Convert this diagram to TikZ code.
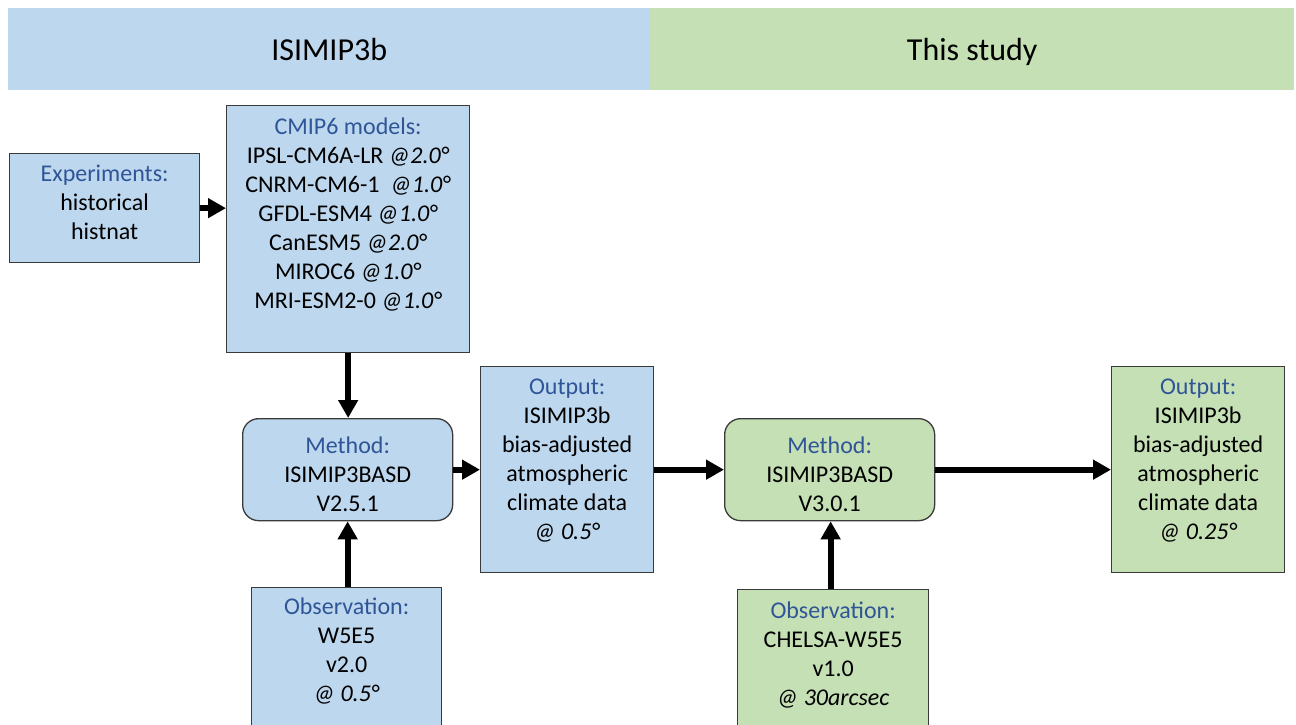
\documentclass[tikz,border=0pt]{standalone}
\usepackage{fontspec}
\setmainfont{Carlito}
\usetikzlibrary{arrows.meta,calc}
\definecolor{bfill}{HTML}{BDD7EE}
\definecolor{gfill}{HTML}{C5E0B4}
\definecolor{ttl}{HTML}{2F5597}
\definecolor{edge}{HTML}{3A3A3A}
\tikzset{
  box/.style={draw=edge, line width=1.3pt, inner sep=0pt, anchor=north west},
  bluebox/.style={box, fill=bfill},
  greenbox/.style={box, fill=gfill},
  rbox/.style={rounded corners=16pt},
  txt/.style={align=center, inner sep=0pt, anchor=north, font=\fontsize{24}{29}\selectfont},
  hdr/.style={inner sep=0pt, anchor=north west, font=\fontsize{32}{38}\selectfont},
  arr/.style={line width=6pt, -{Triangle[length=18pt,width=19pt]}},
}
\newcommand{\ttlc}[1]{\textcolor{ttl}{#1}}
\begin{document}
\begin{tikzpicture}[x=1pt,y=-1pt]
\useasboundingbox (0,0) rectangle (1296,724);
\clip (0,0) rectangle (1296,724);
\fill[white] (0,0) rectangle (1296,724);
% header
\node[hdr, fill=bfill, minimum width=642pt, minimum height=82pt, text depth=-4pt] (hl) at (8,8) {ISIMIP3b};
\node[hdr, fill=gfill, minimum width=644pt, minimum height=82pt, text depth=-4pt] (hr) at (650,8) {This study};
% boxes
\node[bluebox, minimum width=190pt, minimum height=109pt] (exp) at (9,153) {};
\node[txt] (expT) at ($(exp.north)+(0,12)$) {\ttlc{Experiments:}\\historical\\histnat};
\node[bluebox, minimum width=243pt, minimum height=247pt] (cmip) at (226,105) {};
\node[txt] (cmipT) at ($(cmip.north)+(0,13)$) {\ttlc{CMIP6 models:}\\IPSL-CM6A-LR \textit{@2.0°}\\CNRM-CM6-1 \ \textit{@1.0°}\\GFDL-ESM4 \textit{@1.0°}\\CanESM5 \textit{@2.0°}\\MIROC6 \textit{@1.0°}\\MRI-ESM2-0 \textit{@1.0°}};
\node[bluebox, rbox, minimum width=210pt, minimum height=102pt] (m1) at (242,418) {};
\node[txt] (m1T) at ($(m1.north)+(0,19)$) {\ttlc{Method:}\\ISIMIP3BASD\\V2.5.1};
\node[bluebox, minimum width=173pt, minimum height=206pt] (o1) at (480,366) {};
\node[txt] (o1T) at ($(o1.north)+(0,13)$) {\ttlc{Output:}\\ISIMIP3b\\bias-adjusted\\atmospheric\\climate data\\\textit{@ 0.5°}};
\node[bluebox, minimum width=190pt, minimum height=160pt] (ob1) at (251,587) {};
\node[txt] (ob1T) at ($(ob1.north)+(0,11)$) {\ttlc{Observation:}\\W5E5\\v2.0\\\textit{@ 0.5°}};
\node[greenbox, rbox, minimum width=210pt, minimum height=102pt] (m2) at (724,418) {};
\node[txt] (m2T) at ($(m2.north)+(0,19)$) {\ttlc{Method:}\\ISIMIP3BASD\\V3.0.1};
\node[greenbox, minimum width=173pt, minimum height=206pt] (o2) at (1111,366) {};
\node[txt] (o2T) at ($(o2.north)+(0,13)$) {\ttlc{Output:}\\ISIMIP3b\\bias-adjusted\\atmospheric\\climate data\\\textit{@ 0.25°}};
\node[greenbox, minimum width=191pt, minimum height=160pt] (ob2) at (737,589) {};
\node[txt] (ob2T) at ($(ob2.north)+(0,13)$) {\ttlc{Observation:}\\CHELSA-W5E5\\v1.0\\\textit{@ 30arcsec}};
% arrows
\draw[arr] (exp.east) -- (cmip.west |- exp.east);
\draw[arr] (cmip.south) -- (cmip.south |- m1.north);
\draw[arr] (m1.east) -- (o1.west |- m1.east);
\draw[arr] (ob1.north -| m1.south) -- (m1.south);
\draw[arr] (o1.east) -- (m2.west |- o1.east);
\draw[arr] (m2.east) -- (o2.west |- m2.east);
\draw[arr] ($(ob2.north -| m2.south)+(1,0)$) -- ($(m2.south)+(1,0)$);
\end{tikzpicture}
\end{document}
